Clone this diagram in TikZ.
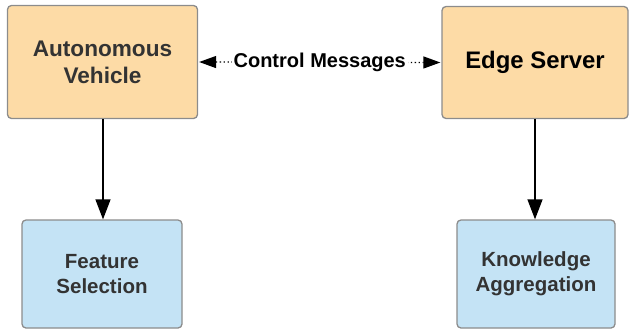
\documentclass[tikz,border=0pt]{standalone}
\usepackage{fontspec}
\setmainfont{Liberation Sans}
\usetikzlibrary{arrows.meta}
\definecolor{peach}{HTML}{FDDBA6}
\definecolor{skyb}{HTML}{C4E3F5}
\definecolor{edgegray}{HTML}{8C8C8C}
\definecolor{txt}{HTML}{333333}
\tikzset{
  box/.style={draw=edgegray, line width=1.3pt, rounded corners=4pt, align=center, font=\bfseries, inner sep=0pt},
  topbox/.style={box, fill=peach},
  lowbox/.style={box, fill=skyb},
  harr/.style={line width=1.3pt, dash pattern=on 1.3pt off 2.6pt, {Triangle[length=17pt,width=12pt,sep=0pt]}-{Triangle[length=17pt,width=12pt]}},
  arr/.style={-{Triangle[length=20pt,width=15pt]}, line width=1.3pt, black},
}
\begin{document}
\begin{tikzpicture}[x=1pt,y=-1pt]
\useasboundingbox (0,0) rectangle (629,330);
\node[topbox, minimum width=190pt, minimum height=113pt, text=txt, font=\bfseries\fontsize{22.6}{27}\selectfont] (av) at (102.5,62) {Autonomous\\Vehicle};
\node[topbox, minimum width=186pt, minimum height=112pt, text=black, font=\bfseries\fontsize{23.9}{27}\selectfont] (es) at (535,62.5) {Edge Server};
\node[lowbox, minimum width=160pt, minimum height=108pt, text=txt, font=\bfseries\fontsize{20.5}{25}\selectfont] (fs) at (102,274) {Feature\\Selection};
\node[lowbox, minimum width=158pt, minimum height=108pt, text=txt, font=\bfseries\fontsize{20.5}{25}\selectfont] (ka) at (536,274) {Knowledge\\Aggregation};
\draw[harr] ([xshift=1pt]av.east) -- ([xshift=-1pt]es.west) node[midway, fill=white, inner xsep=2pt, inner ysep=1pt, font=\bfseries\fontsize{20}{22}\selectfont, text=black] (cm) {Control Messages};
\draw[arr] ([xshift=0.5pt]av.south) -- ([xshift=1pt]fs.north);
\draw[arr] (es.south) -- ([xshift=-1pt]ka.north);
\end{tikzpicture}
\end{document}
